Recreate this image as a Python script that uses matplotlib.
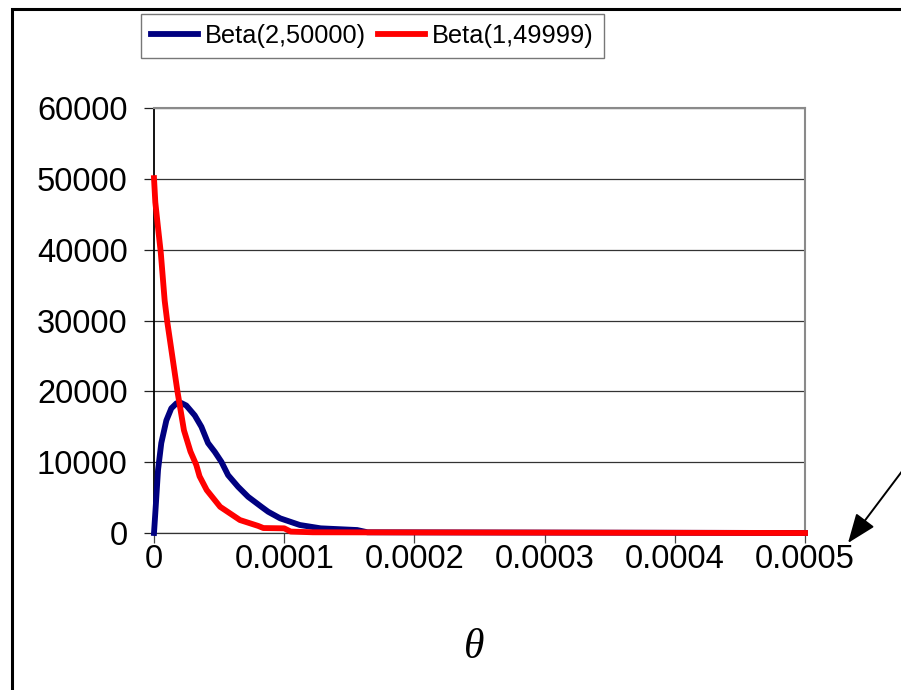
import matplotlib
matplotlib.use("Agg")
import matplotlib.pyplot as plt
from matplotlib.patches import Rectangle

# Beta(2,50000) density, sampled along theta
theta_a = [0, 1.0e-6, 3.1e-6, 5.6e-6, 9.5e-6, 1.33e-5, 1.72e-5, 2.1e-5, 2.48e-5,
           3.13e-5, 3.64e-5, 4.15e-5, 4.67e-5, 5.18e-5, 5.69e-5, 6.46e-5, 7.23e-5,
           8.25e-5, 8.77e-5, 9.69e-5, 1.12e-4, 1.28e-4, 1.56e-4, 1.64e-4, 5.0e-4]
dens_a = [0, 2800, 8900, 12700, 15900, 17600, 18300, 18350, 18000,
          16600, 15000, 12700, 11450, 10040, 8170, 6520, 5110,
          3700, 3000, 2070, 1130, 660, 420, 100, 0]

# Beta(1,49999) density, sampled along theta
theta_b = [0, 1.0e-6, 3.1e-6, 5.2e-6, 8.2e-6, 1.02e-5, 1.8e-5, 2.0e-5, 2.3e-5,
           2.8e-5, 3.25e-5, 3.5e-5, 4.05e-5, 5.08e-5, 6.6e-5, 8.0e-5, 8.4e-5,
           1.0e-4, 1.05e-4, 1.22e-4, 5.0e-4]
dens_b = [50100, 46700, 43100, 39600, 32800, 29800, 20000, 17800, 14500,
          11500, 9600, 8000, 6060, 3700, 1830, 1000, 700,
          660, 200, 100, 0]

series_labels = ["Beta(2,50000)", "Beta(1,49999)"]
x_ticks = [0, 0.0001, 0.0002, 0.0003, 0.0004, 0.0005]
x_tick_labels = ["0", "0.0001", "0.0002", "0.0003", "0.0004", "0.0005"]
y_ticks = [0, 10000, 20000, 30000, 40000, 50000, 60000]
y_tick_labels = ["0", "10000", "20000", "30000", "40000", "50000", "60000"]
x_label = "\u03b8"

W, H = 901, 690
fig = plt.figure(figsize=(W / 100, H / 100), dpi=100)
fig.patch.set_facecolor("white")

ax = fig.add_axes([154 / W, 1 - 533 / H, (805 - 154) / W, (533 - 108) / H])

ax.plot(theta_a, dens_a, color="#000080", lw=4.2, label=series_labels[0],
        clip_on=False, solid_joinstyle="round", zorder=3)
ax.plot(theta_b, dens_b, color="#ff0000", lw=4.2, label=series_labels[1],
        clip_on=False, solid_joinstyle="round", zorder=4)

ax.set_xlim(0, 0.0005)
ax.set_ylim(0, 60000)
ax.set_xticks(x_ticks)
ax.set_xticklabels(x_tick_labels)
ax.set_yticks(y_ticks)
ax.set_yticklabels(y_tick_labels)

for lab in ax.get_xticklabels() + ax.get_yticklabels():
    lab.set_fontfamily("Liberation Sans")
    lab.set_fontsize(23.5)

ax.tick_params(axis="y", direction="out", length=7.5, width=0.9, color="#222222", pad=11.5)
ax.tick_params(axis="x", direction="out", length=7.5, width=0.9, color="#444444", pad=0.5)

ax.yaxis.grid(True, color="#333333", lw=0.9)
ax.set_axisbelow(True)

ax.spines["left"].set_color("#000000")
ax.spines["left"].set_linewidth(1.3)
ax.spines["bottom"].set_color("#333333")
ax.spines["bottom"].set_linewidth(0.9)
for s in ("top", "right"):
    ax.spines[s].set_color("#8a8a8a")
    ax.spines[s].set_linewidth(1.5)

fig.text(474 / W, 1 - 648 / H, x_label, fontfamily="Liberation Serif",
         style="italic", fontsize=30, ha="center", va="center")

leg = fig.legend(loc="upper left", bbox_to_anchor=(141 / W, 1 - 14 / H),
                 bbox_transform=fig.transFigure, ncol=2, frameon=True,
                 fancybox=False, borderaxespad=0, borderpad=0.4,
                 handlelength=1.85, handletextpad=0.25, columnspacing=0.5,
                 prop={"family": "Liberation Sans", "size": 18.3})
leg.get_frame().set_edgecolor("#555555")
leg.get_frame().set_linewidth(1.0)

# outer chart frame (extends beyond the right and bottom edges)
fig.patches.append(Rectangle((11.5 / W, -0.2), 1.5, 1 - 9 / H + 0.2,
                             transform=fig.transFigure, fill=False,
                             edgecolor="black", lw=2.2, zorder=0))

ax.annotate("", xy=(848 / W, 1 - 543 / H), xycoords="figure fraction",
            xytext=(912 / W, 1 - 458 / H), textcoords="figure fraction",
            arrowprops=dict(arrowstyle="-|>,head_length=0.9,head_width=0.35",
                            color="black", lw=1.4, mutation_scale=20,
                            shrinkA=0, shrinkB=0),
            annotation_clip=False)

fig.savefig("out.png", dpi=100)
